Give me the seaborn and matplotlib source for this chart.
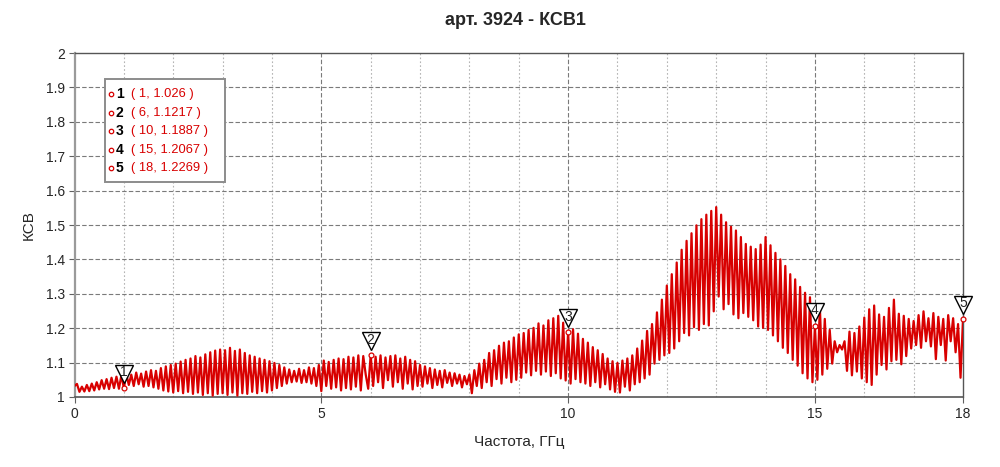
import numpy as np
import pandas as pd
import matplotlib
matplotlib.use("Agg")
import matplotlib.pyplot as plt
import matplotlib.transforms as mtransforms
from matplotlib.patches import Rectangle
import seaborn as sns

# ---------------- data ----------------
sweep_start_ghz = 0.0
sweep_stop_ghz = 18.0

# VSWR trace, 20 samples per GHz (step 0.05 GHz)
vswr_0_1 = [1.032, 1.038, 1.015, 1.030, 1.016, 1.035, 1.017, 1.039, 1.019, 1.043,
            1.022, 1.049, 1.024, 1.052, 1.023, 1.056, 1.026, 1.059, 1.024, 1.063]
vswr_1_2 = [1.026, 1.067, 1.035, 1.065, 1.032, 1.071, 1.037, 1.068, 1.030, 1.074,
            1.032, 1.078, 1.028, 1.076, 1.024, 1.084, 1.019, 1.089, 1.016, 1.093]
vswr_2_3 = [1.013, 1.097, 1.017, 1.103, 1.011, 1.108, 1.015, 1.112, 1.009, 1.119,
            1.013, 1.115, 1.006, 1.124, 1.011, 1.130, 1.004, 1.135, 1.009, 1.138]
vswr_3_4 = [1.011, 1.136, 1.006, 1.143, 1.013, 1.134, 1.004, 1.138, 1.011, 1.128,
            1.009, 1.121, 1.015, 1.117, 1.011, 1.112, 1.017, 1.108, 1.013, 1.104]
vswr_4_5 = [1.019, 1.099, 1.026, 1.093, 1.032, 1.086, 1.039, 1.080, 1.043, 1.076,
            1.045, 1.082, 1.041, 1.078, 1.043, 1.086, 1.039, 1.084, 1.032, 1.093]
vswr_5_6 = [1.017, 1.106, 1.032, 1.102, 1.024, 1.108, 1.028, 1.112, 1.019, 1.110,
            1.026, 1.117, 1.022, 1.115, 1.030, 1.121, 1.019, 1.119, 1.065, 1.024]
vswr_6_7 = [1.1217, 1.032, 1.117, 1.043, 1.121, 1.026, 1.115, 1.049, 1.119, 1.030,
            1.121, 1.043, 1.112, 1.024, 1.117, 1.039, 1.108, 1.022, 1.104, 1.032]
vswr_7_8 = [1.093, 1.030, 1.089, 1.039, 1.084, 1.026, 1.080, 1.035, 1.076, 1.028,
            1.078, 1.041, 1.071, 1.032, 1.069, 1.039, 1.065, 1.028, 1.061, 1.037]
vswr_8_9 = [1.065, 1.011, 1.078, 1.032, 1.097, 1.026, 1.108, 1.043, 1.128, 1.032,
            1.136, 1.052, 1.149, 1.039, 1.158, 1.056, 1.162, 1.043, 1.173, 1.050]
vswr_9_10 = [1.182, 1.056, 1.186, 1.071, 1.195, 1.063, 1.201, 1.076, 1.214, 1.065,
             1.208, 1.074, 1.223, 1.061, 1.229, 1.069, 1.236, 1.054, 1.216, 1.048]
vswr_10_11 = [1.1887, 1.039, 1.197, 1.052, 1.184, 1.043, 1.169, 1.039, 1.158, 1.032,
              1.145, 1.043, 1.136, 1.028, 1.125, 1.037, 1.112, 1.022, 1.104, 1.015]
vswr_11_12 = [1.099, 1.013, 1.106, 1.030, 1.112, 1.019, 1.121, 1.037, 1.141, 1.043,
              1.164, 1.054, 1.192, 1.065, 1.212, 1.097, 1.246, 1.108, 1.283, 1.121]
vswr_12_13 = [1.324, 1.128, 1.357, 1.141, 1.391, 1.162, 1.428, 1.186, 1.454, 1.179,
              1.476, 1.203, 1.499, 1.195, 1.517, 1.212, 1.530, 1.208, 1.541, 1.249]
vswr_13_14 = [1.552, 1.292, 1.530, 1.255, 1.508, 1.270, 1.495, 1.240, 1.484, 1.229,
              1.465, 1.244, 1.445, 1.233, 1.437, 1.223, 1.430, 1.205, 1.443, 1.201]
vswr_14_15 = [1.465, 1.195, 1.441, 1.179, 1.419, 1.162, 1.400, 1.143, 1.381, 1.128,
              1.357, 1.108, 1.342, 1.091, 1.320, 1.069, 1.303, 1.054, 1.290, 1.043]
vswr_15_16 = [1.2067, 1.050, 1.262, 1.065, 1.227, 1.082, 1.195, 1.097, 1.162, 1.130,
              1.151, 1.138, 1.162, 1.076, 1.190, 1.063, 1.186, 1.074, 1.205, 1.054]
vswr_16_17 = [1.231, 1.043, 1.255, 1.035, 1.266, 1.065, 1.240, 1.093, 1.233, 1.080,
              1.259, 1.104, 1.283, 1.108, 1.242, 1.095, 1.236, 1.119, 1.227, 1.141]
vswr_17_18 = [1.221, 1.151, 1.238, 1.143, 1.249, 1.162, 1.229, 1.147, 1.244, 1.110,
              1.233, 1.151, 1.227, 1.106, 1.238, 1.162, 1.229, 1.130, 1.212, 1.056]
vswr_end = [1.2269]

marker_ids = [1, 2, 3, 4, 5]
marker_freq = [1, 6, 10, 15, 18]
marker_vswr = [1.026, 1.1217, 1.1887, 1.2067, 1.2269]
marker_text = ["( 1, 1.026 )", "( 6, 1.1217 )", "( 10, 1.1887 )",
               "( 15, 1.2067 )", "( 18, 1.2269 )"]

x_ticks = [0, 5, 10, 15, 18]
y_ticks = [1, 1.1, 1.2, 1.3, 1.4, 1.5, 1.6, 1.7, 1.8, 1.9, 2]
y_tick_labels = ["1", "1.1", "1.2", "1.3", "1.4", "1.5", "1.6", "1.7", "1.8", "1.9", "2"]

title_text = "арт. 3924 - КСВ1"
x_label = "Частота, ГГц"
y_label = "КСВ"

vswr = (vswr_0_1 + vswr_1_2 + vswr_2_3 + vswr_3_4 + vswr_4_5 + vswr_5_6 +
        vswr_6_7 + vswr_7_8 + vswr_8_9 + vswr_9_10 + vswr_10_11 + vswr_11_12 +
        vswr_12_13 + vswr_13_14 + vswr_14_15 + vswr_15_16 + vswr_16_17 +
        vswr_17_18 + vswr_end)
freq = np.linspace(sweep_start_ghz, sweep_stop_ghz, len(vswr))
df = pd.DataFrame({"freq": freq, "vswr": vswr})

# ---------------- style ----------------
sns.set_style("white")
plt.rcParams["font.family"] = ["Liberation Sans", "DejaVu Sans"]

RED = "#d80000"
fig = plt.figure(figsize=(10, 4.67), dpi=100)
ax = fig.add_axes([0.0745, 0.1499, 0.8885, 0.7366])

# grid
for xv in range(1, 18):
    if xv % 5 == 0:
        ax.axvline(xv, color="#7a7a7a", lw=0.8, ls=(0, (4, 2)), zorder=0)
    else:
        ax.axvline(xv, color="#b4b4b4", lw=0.8, ls=(0, (1.5, 2)), zorder=0)
for yv in y_ticks[1:-1]:
    ax.axhline(yv, color="#7a7a7a", lw=0.8, ls=(0, (4, 2)), zorder=0)

sns.lineplot(data=df, x="freq", y="vswr", ax=ax, color=RED, lw=1.6,
             estimator=None, sort=False, zorder=3)

ax.set_xlim(sweep_start_ghz, sweep_stop_ghz)
ax.set_ylim(1, 2)
ax.set_xticks(x_ticks)
ax.set_xticklabels([str(t) for t in x_ticks])
ax.set_yticks(y_ticks)
ax.set_yticklabels(y_tick_labels)
ax.tick_params(axis="both", which="major", direction="out", length=4,
               width=0.8, color="#606060", labelsize=10, pad=3,
               bottom=True, left=True)
ax.set_xlabel(x_label, fontsize=11, labelpad=10)
ax.set_ylabel(y_label, fontsize=11, labelpad=7)
fig.text(0.515, 0.957, title_text, ha="center", va="center",
         fontsize=13, fontweight="bold")

for side in ["top", "right"]:
    ax.spines[side].set_color("#555555")
    ax.spines[side].set_linewidth(1.0)
ax.spines["left"].set_color("#9a9a9a")
ax.spines["left"].set_linewidth(1.6)
ax.spines["bottom"].set_color("#555555")
ax.spines["bottom"].set_linewidth(1.2)

# markers
tri_offset = mtransforms.offset_copy(ax.transData, fig=fig, x=0, y=10, units="points")
txt_offset = mtransforms.offset_copy(ax.transData, fig=fig, x=0, y=11.2, units="points")
for mid, mx, my in zip(marker_ids, marker_freq, marker_vswr):
    ax.plot([mx], [my], marker="o", ms=3.5, mfc="white", mec=RED, mew=0.9,
            zorder=5, clip_on=False)
    ax.plot([mx], [my], marker="v", ms=13, mfc="white", mec="black", mew=1.0,
            transform=tri_offset, zorder=6, clip_on=False)
    ax.text(mx, my, str(mid), transform=txt_offset, ha="center", va="center",
            fontsize=10, color="#222222", zorder=7, clip_on=False)

# marker table
ax.add_patch(Rectangle((0.0343, 0.6259), 0.1351, 0.2976, transform=ax.transAxes,
                       facecolor="white", edgecolor="#8c8c8c", lw=1.4, zorder=8))
for i, (mid, mt) in enumerate(zip(marker_ids, marker_text)):
    yy = 0.881 - i * 0.054
    ax.plot([0.0411], [yy], marker="o", ms=3.2, mfc="white", mec=RED, mew=0.9,
            transform=ax.transAxes, zorder=9)
    ax.text(0.0464, yy, str(mid), transform=ax.transAxes, ha="left", va="center",
            fontsize=10, fontweight="bold", color="black", zorder=9)
    ax.text(0.0636, yy, mt, transform=ax.transAxes, ha="left", va="center",
            fontsize=9.3, color=RED, zorder=9)

fig.savefig("out.png", dpi=100)
